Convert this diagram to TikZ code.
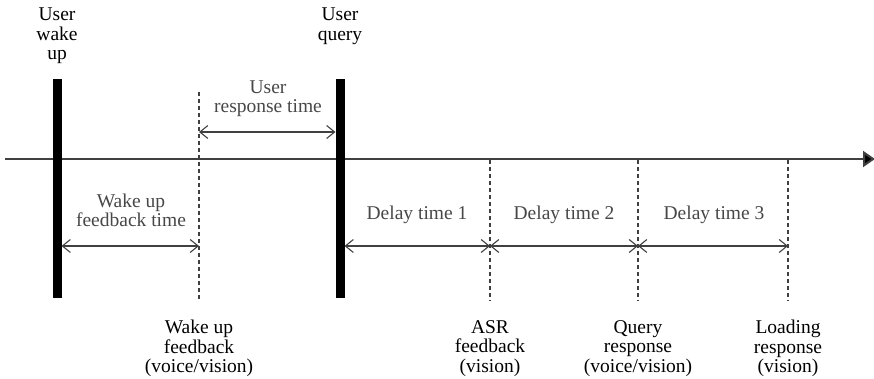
\documentclass[tikz,border=0pt]{standalone}
\usepackage{fontspec}
\setmainfont{Liberation Serif}
\usetikzlibrary{arrows.meta}
\begin{document}
\begin{tikzpicture}[x=1pt,y=-1pt,
  axisline/.style={line width=2pt, draw=black!75, -{Triangle[length=12pt,width=16pt,fill=black]}},
  eventbar/.style={fill=black, inner sep=0pt, minimum width=9pt, minimum height=219pt},
  marker/.style={draw=black!75, line width=1.1pt, dash pattern=on 4pt off 3pt},
  span/.style={draw=black!75, line width=1.1pt,
    {Straight Barb[length=8pt,width=13pt,line width=1.1pt]}-{Straight Barb[length=8pt,width=13pt,line width=1.1pt]}},
  spanlabel/.style={text=black!72, font=\fontsize{19.5}{19}\selectfont, align=center, inner sep=0pt, anchor=north},
  eventlabel/.style={text=black, font=\fontsize{19.5}{19.5}\selectfont, align=center, inner sep=0pt, anchor=north},
]
\path[use as bounding box] (0,0) rectangle (874,379);

% time axis
\coordinate (axL) at (5,159);
\coordinate (axR) at (875,159);
\draw[axisline] (axL) -- (axR);

% user events (thick bars)
\node[eventbar] (wake)  at (57,188.5) {};
\node[eventbar] (query) at (340,188.5) {};

% system events (dashed markers)
\coordinate (wfTop) at (199,92);   \coordinate (wfBot) at (199,301);
\coordinate (asrTop) at (490,160); \coordinate (asrBot) at (490,301);
\coordinate (qrTop) at (638,160);  \coordinate (qrBot) at (638,301);
\coordinate (ldTop) at (788,160);  \coordinate (ldBot) at (788,301);
\draw[marker] (wfTop) -- (wfBot);
\draw[marker] (asrTop) -- (asrBot);
\draw[marker] (qrTop) -- (qrBot);
\draw[marker] (ldTop) -- (ldBot);

% interval arrows
\coordinate (urL) at (199,132);   \coordinate (urR) at (335.5,132);
\coordinate (wkL) at (61.5,246);  \coordinate (wkR) at (199,246);
\coordinate (d1L) at (344.5,246); \coordinate (d1R) at (490,246);
\coordinate (d2R) at (638,246);
\coordinate (d3R) at (788,246);
\draw[span] (urL) -- (urR);
\draw[span] (wkL) -- (wkR);
\draw[span] (d1L) -- (d1R);
\draw[span] (d1R) -- (d2R);
\draw[span] (d2R) -- (d3R);

% interval labels
\node[spanlabel] (urText) at (268,81)  {User\\response time};
\node[spanlabel] (wkText) at (131,194) {Wake up\\feedback time};
\node[spanlabel] (d1Text) at (417,206) {Delay time 1};
\node[spanlabel] (d2Text) at (564,206) {Delay time 2};
\node[spanlabel] (d3Text) at (714,206) {Delay time 3};

% event labels
\node[eventlabel] (wakeText)  at (57,8)   {User\\wake\\up};
\node[eventlabel] (queryText) at (340,8)  {User\\query};
\node[eventlabel] (wfText)  at (199,320) {Wake up\\feedback\\(voice/vision)};
\node[eventlabel] (asrText) at (490,320) {ASR\\feedback\\(vision)};
\node[eventlabel] (qrText)  at (638,320) {Query\\response\\(voice/vision)};
\node[eventlabel] (ldText)  at (788,320) {Loading\\response\\(vision)};
\end{tikzpicture}
\end{document}
